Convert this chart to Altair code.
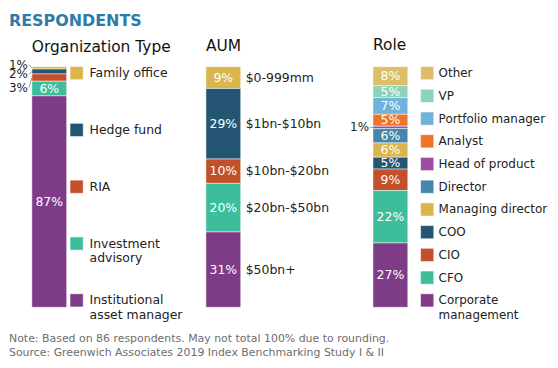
import altair as alt
import pandas as pd

FONT = "DejaVu Sans"

# ---- data ----
org_cats = ["Family office", "Hedge fund", "RIA", "Investment advisory", "Institutional asset manager"]
org_vals = [1, 2, 3, 6, 87]
org_leg1 = ["Family office", "Hedge fund", "RIA", "Investment", "Institutional"]
org_leg2 = ["", "", "", "advisory", "asset manager"]
org_colors = ["#D9B54C", "#245674", "#C3502A", "#3EBD9B", "#7E3B86"]

aum_cats = ["$0-999mm", "$1bn-$10bn", "$10bn-$20bn", "$20bn-$50bn", "$50bn+"]
aum_vals = [9, 29, 10, 20, 31]
aum_colors = ["#D9B54C", "#245674", "#C3502A", "#3EBD9B", "#7E3B86"]

role_cats = ["Other", "VP", "Portfolio manager", "Analyst", "Head of product", "Director",
             "Managing director", "COO", "CIO", "CFO", "Corporate management"]
role_vals = [8, 5, 7, 5, 1, 6, 6, 5, 9, 22, 27]
role_leg1 = ["Other", "VP", "Portfolio manager", "Analyst", "Head of product", "Director",
             "Managing director", "COO", "CIO", "CFO", "Corporate"]
role_leg2 = ["", "", "", "", "", "", "", "", "", "", "management"]
role_colors = ["#DCBD6A", "#8DD3B8", "#6FB2DC", "#EE7428", "#9D4AA2", "#4785AD",
               "#D9B54C", "#245674", "#C3502A", "#3EBD9B", "#7E3B86"]

notes = ["Note: Based on 86 respondents. May not total 100% due to rounding.",
         "Source: Greenwich Associates 2019 Index Benchmarking Study I & II"]

# ---- layout / style ----
H = 242
BAR_W = 35
IN_TXT = 12.5
OUT_TXT = 12
OVER = 23  # left overhang of the outside labels of the first panel


def make_df(cats, vals, leg1=None, leg2=None):
    rows = []
    s = 0
    for i, (c, v) in enumerate(zip(cats, vals)):
        rows.append({
            "cat": c, "value": v, "start": s, "end": s + v, "mid": s + v / 2,
            "li": i, "pct": f"{v}%",
            "leg1": leg1[i] if leg1 else c, "leg2": leg2[i] if leg2 else "",
        })
        s += v
    return pd.DataFrame(rows), s


def panel(title, cats, vals, colors, width, leg1=None, leg2=None, legend=True,
          sq_x=50, tx_x=62, leg_size=12.5, outside=None, out_gap=4, inside_min=5,
          title_offset=12):
    df, total = make_df(cats, vals, leg1, leg2)
    ys = alt.Scale(domain=[0, total], reverse=True, nice=False, zero=True)
    col = alt.Color("cat:N", scale=alt.Scale(domain=cats, range=colors), legend=None)
    base = alt.Chart(df)
    layers = []
    bars = base.mark_bar(stroke="white", strokeWidth=0.5).encode(
        x=alt.value(0), x2=alt.value(BAR_W),
        y=alt.Y("start:Q", scale=ys, axis=None), y2="end:Q", color=col)
    layers.append(bars)
    inside = base.transform_filter(alt.datum.value >= inside_min).mark_text(
        font=FONT, fontSize=IN_TXT, color="white", baseline="middle", align="center").encode(
        x=alt.value(BAR_W / 2), y=alt.Y("mid:Q", scale=ys, axis=None), text="pct:N")
    layers.append(inside)
    if outside:
        for cat, dy in outside.items():
            sub = base.transform_filter(alt.datum.cat == cat)
            layers.append(sub.mark_text(font=FONT, fontSize=OUT_TXT, color="#222", baseline="middle",
                                        align="right", dy=dy).encode(
                x=alt.value(-out_gap), y=alt.Y("mid:Q", scale=ys, axis=None), text="pct:N"))
            layers.append(sub.mark_rule(color="#9A9A9A", strokeWidth=1, yOffset=dy).encode(
                x=alt.value(-out_gap + 1), x2=alt.value(0),
                y=alt.Y("mid:Q", scale=ys, axis=None), y2="mid:Q"))
    if legend:
        n = len(cats)
        ls = alt.Scale(domain=[0, n - 1], range=[6.5, 235])
        layers.append(base.mark_square(size=175, opacity=1, stroke="white", strokeWidth=0.5).encode(
            x=alt.value(sq_x), y=alt.Y("li:Q", scale=ls, axis=None), color=col))
        layers.append(base.mark_text(font=FONT, fontSize=leg_size, color="#222", align="left",
                                     baseline="middle").encode(
            x=alt.value(tx_x), y=alt.Y("li:Q", scale=ls, axis=None), text="leg1:N"))
        layers.append(base.mark_text(font=FONT, fontSize=leg_size, color="#222", align="left",
                                     baseline="middle", dy=15).encode(
            x=alt.value(tx_x), y=alt.Y("li:Q", scale=ls, axis=None), text="leg2:N"))
    else:
        layers.append(base.mark_text(font=FONT, fontSize=12.5, color="#222", align="left",
                                     baseline="middle").encode(
            x=alt.value(BAR_W + 5), y=alt.Y("mid:Q", scale=ys, axis=None), text="cat:N"))
    return alt.layer(*layers).resolve_scale(y="independent").properties(
        width=width, height=H,
        title=alt.TitleParams(title, anchor="start", frame="group", font=FONT, fontSize=15.5,
                              fontWeight="normal", color="#111", offset=title_offset))


p1 = panel("Organization Type", org_cats, org_vals, org_colors, 174, org_leg1, org_leg2,
           sq_x=45, tx_x=58, leg_size=12.5,
           outside={"Family office": -3, "Hedge fund": 3, "RIA": 10}, title_offset=3)
p2 = panel("AUM", aum_cats, aum_vals, aum_colors, 144, legend=False)
p3 = panel("Role", role_cats, role_vals, role_colors, 178, role_leg1, role_leg2,
           sq_x=54.5, tx_x=66, leg_size=12, outside={"Head of product": 0})

foot_df = pd.DataFrame({"i": list(range(len(notes))), "t": notes})
foot = alt.Chart(foot_df).mark_text(font=FONT, fontSize=11, color="#6E6E6E", align="left",
                                    baseline="middle").encode(
    x=alt.value(-OVER),
    y=alt.Y("i:Q", axis=None, scale=alt.Scale(domain=[0, len(notes) - 1], range=[5, 19])),
    text="t:N").properties(width=380, height=24)

chart = alt.vconcat(
    alt.hconcat(p1, p2, p3, spacing=0).resolve_scale(color="independent"),
    foot, spacing=11
).resolve_scale(color="independent").properties(
    padding={"top": 4, "left": 0, "right": 0, "bottom": 0},
    title=alt.TitleParams("RESPONDENTS", anchor="start", font=FONT, fontSize=16,
                          fontWeight="bold", color="#2F7BA8", offset=9)
).configure_view(stroke=None)

chart.save("out.html", embed_options={"renderer": "svg", "actions": False})
